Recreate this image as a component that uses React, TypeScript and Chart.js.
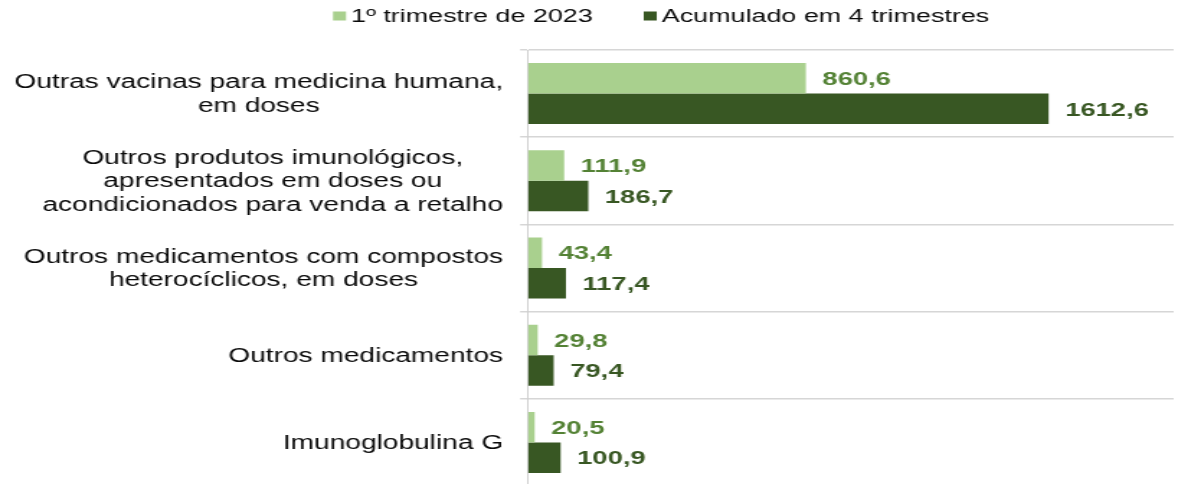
import React, { useEffect, useRef } from "react";
import { Chart, registerables } from "chart.js";

Chart.register(...registerables);

const categories: string[][] = [
  ["Outras vacinas para medicina humana,", "em doses"],
  ["Outros produtos imunológicos,", "apresentados em doses ou", "acondicionados para venda a retalho"],
  ["Outros medicamentos com compostos", "heterocíclicos, em doses"],
  ["Outros medicamentos"],
  ["Imunoglobulina G"],
];
const seriesNames = ["1º trimestre de 2023", "Acumulado em 4 trimestres"];
const trimestre2023 = [860.6, 111.9, 43.4, 29.8, 20.5];
const acumulado4 = [1612.6, 186.7, 117.4, 79.4, 100.9];
const xMax = 2000;

const FONT = "'Liberation Sans', Arial, sans-serif";
const STRETCH = 1.44;
const OUT_W = 1178;
const CANVAS_W = Math.round(OUT_W / STRETCH);
const CANVAS_H = 490;

const barColors = ["#a9d08e", "#385723"];
const labelColors = ["#548235", "#385723"];

const fmt = (v: number) => v.toFixed(1).replace(".", ",");

const yLabelPlugin = {
  id: "yLabels",
  afterDraw(chart: any) {
    const { ctx, chartArea } = chart;
    const yScale = chart.scales.y;
    ctx.save();
    ctx.font = `19.5px ${FONT}`;
    ctx.fillStyle = "#0a0a0a";
    ctx.textAlign = "center";
    ctx.textBaseline = "middle";
    const right = chartArea.left - 25 / STRETCH;
    const lineH = 23.5;
    (chart.data.labels as string[][]).forEach((lines, i) => {
      const cy = yScale.getPixelForTick(i);
      const maxW = Math.max(...lines.map((l) => ctx.measureText(l).width));
      const cx = right - maxW / 2;
      lines.forEach((l, j) => {
        ctx.fillText(l, cx, cy + (j - (lines.length - 1) / 2) * lineH + 1);
      });
    });
    ctx.restore();
  },
};

const dataLabelPlugin = {
  id: "dataLabels",
  afterDatasetsDraw(chart: any) {
    const { ctx } = chart;
    ctx.save();
    ctx.font = `bold 19px ${FONT}`;
    ctx.textAlign = "left";
    ctx.textBaseline = "middle";
    chart.data.datasets.forEach((ds: any, di: number) => {
      const meta = chart.getDatasetMeta(di);
      ctx.fillStyle = labelColors[di];
      meta.data.forEach((bar: any, i: number) => {
        ctx.fillText(fmt(ds.data[i]), bar.x + 11.5, bar.y + 1.5);
      });
    });
    ctx.restore();
  },
};

const legendPlugin = {
  id: "customLegend",
  afterDraw(chart: any) {
    const { ctx } = chart;
    ctx.save();
    ctx.font = `18.7px ${FONT}`;
    ctx.textBaseline = "middle";
    ctx.textAlign = "left";
    let x = 333 / STRETCH;
    const cy = 16;
    const boxW = 13 / STRETCH;
    const boxH = 9;
    chart.data.datasets.forEach((ds: any) => {
      ctx.fillStyle = ds.backgroundColor;
      ctx.fillRect(x, cy - boxH / 2, boxW, boxH);
      x += boxW + 5 / STRETCH;
      ctx.fillStyle = "#0a0a0a";
      ctx.fillText(ds.label, x, cy + 1);
      x += ctx.measureText(ds.label).width + 51 / STRETCH;
    });
    ctx.restore();
  },
};

export default function App() {
  const ref = useRef<HTMLCanvasElement | null>(null);
  useEffect(() => {
    if (!ref.current) return;
    const chart = new Chart(ref.current, {
      type: "bar",
      data: {
        labels: categories as any,
        datasets: [
          {
            label: seriesNames[0],
            data: trimestre2023,
            backgroundColor: barColors[0],
            categoryPercentage: 0.7,
            barPercentage: 1.0,
          },
          {
            label: seriesNames[1],
            data: acumulado4,
            backgroundColor: barColors[1],
            categoryPercentage: 0.7,
            barPercentage: 1.0,
          },
        ],
      },
      options: {
        indexAxis: "y",
        animation: false,
        responsive: false,
        devicePixelRatio: 1,
        layout: { padding: { top: 50, bottom: 4, left: 0, right: 3 } },
        plugins: {
          legend: { display: false },
          tooltip: { enabled: false },
        },
        scales: {
          x: {
            display: false,
            min: 0,
            max: xMax,
          },
          y: {
            display: true,
            offset: true,
            ticks: { display: false },
            grid: {
              display: true,
              offset: true,
              color: "#d6d6d6",
              lineWidth: 1.5,
              drawTicks: true,
              tickLength: 8 / STRETCH,
            },
            border: { display: true, color: "#d0d0d0", width: 1 },
            afterFit(scale: any) {
              scale.width = 528 / STRETCH;
            },
          },
        },
      },
      plugins: [yLabelPlugin, dataLabelPlugin, legendPlugin],
    } as any);
    return () => chart.destroy();
  }, []);
  return (
    <div
      style={{
        position: "absolute",
        left: 0,
        top: 0,
        width: OUT_W,
        height: 484,
        overflow: "hidden",
        background: "#ffffff",
      }}
    >
      <canvas
        ref={ref}
        width={CANVAS_W}
        height={CANVAS_H}
        style={{ width: `${OUT_W}px`, height: `${CANVAS_H}px`, display: "block" }}
      />
    </div>
  );
}
